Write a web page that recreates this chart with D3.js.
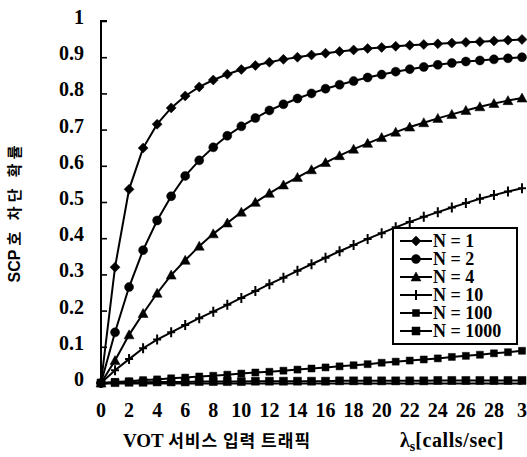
<!DOCTYPE html>
<html>
<head>
<meta charset="utf-8">
<script src="https://cdn.jsdelivr.net/npm/d3@7"></script>
<style>
  body { margin: 0; background: #fff; }
  text { fill: #000; }
</style>
</head>
<body>
<div id="chart"></div>
<script>
const W = 527, H = 457;
const margin = { top: 21, right: 5, bottom: 74, left: 101 };

// traffic values (calls/sec)
const lambdaValues = [0, 1, 2, 3, 4, 5, 6, 7, 8, 9, 10, 11, 12, 13, 14, 15, 16, 17, 18, 19, 20, 21, 22, 23, 24, 25, 26, 27, 28, 29, 30];
const xTickValues = [0, 2, 4, 6, 8, 10, 12, 14, 16, 18, 20, 22, 24, 26, 28, 30];
const xTickLabels = ["0", "2", "4", "6", "8", "10", "12", "14", "16", "18", "20", "22", "24", "26", "28", "3"];
const yTickValues = [0, 0.1, 0.2, 0.3, 0.4, 0.5, 0.6, 0.7, 0.8, 0.9, 1];
const yTickLabels = ["0", "0.1", "0.2", "0.3", "0.4", "0.5", "0.6", "0.7", "0.8", "0.9", "1"];

const seriesNames = ["N = 1", "N = 2", "N = 4", "N = 10", "N = 100", "N = 1000"];
const n1 = [0, 0.32, 0.535, 0.649, 0.715, 0.76, 0.793, 0.818, 0.837, 0.853, 0.866, 0.877, 0.886, 0.894, 0.900, 0.906, 0.911, 0.916, 0.920, 0.924, 0.927, 0.930, 0.933, 0.935, 0.937, 0.939, 0.941, 0.943, 0.945, 0.947, 0.949];
const n2 = [0, 0.14, 0.265, 0.367, 0.449, 0.516, 0.572, 0.615, 0.651, 0.683, 0.709, 0.732, 0.753, 0.770, 0.786, 0.800, 0.813, 0.824, 0.834, 0.844, 0.852, 0.860, 0.867, 0.873, 0.879, 0.884, 0.888, 0.891, 0.894, 0.897, 0.900];
const n4 = [0, 0.062, 0.133, 0.192, 0.248, 0.298, 0.339, 0.378, 0.412, 0.442, 0.472, 0.499, 0.524, 0.547, 0.568, 0.589, 0.609, 0.628, 0.646, 0.662, 0.678, 0.693, 0.707, 0.719, 0.731, 0.742, 0.753, 0.763, 0.772, 0.780, 0.787];
const n10 = [0, 0.035, 0.066, 0.096, 0.12, 0.14, 0.16, 0.179, 0.197, 0.216, 0.235, 0.254, 0.273, 0.291, 0.31, 0.328, 0.346, 0.364, 0.381, 0.398, 0.414, 0.43, 0.445, 0.459, 0.472, 0.485, 0.497, 0.509, 0.519, 0.529, 0.538];
const n100 = [0, 0.003, 0.005, 0.008, 0.010, 0.013, 0.015, 0.018, 0.020, 0.023, 0.026, 0.029, 0.031, 0.034, 0.037, 0.040, 0.043, 0.046, 0.049, 0.052, 0.056, 0.059, 0.062, 0.065, 0.068, 0.072, 0.075, 0.078, 0.082, 0.085, 0.089];
const n1000 = [0, 0.001, 0.002, 0.002, 0.003, 0.003, 0.003, 0.004, 0.004, 0.004, 0.004, 0.005, 0.005, 0.005, 0.005, 0.005, 0.005, 0.006, 0.006, 0.006, 0.006, 0.006, 0.006, 0.006, 0.007, 0.007, 0.007, 0.007, 0.007, 0.007, 0.007];

const seriesValues = [n1, n2, n4, n10, n100, n1000];
const markerShapes = ["diamond", "circle", "triangle", "plus", "smallsquare", "square"];

const markerPath = {
  diamond: "M0,-5L5,0L0,5L-5,0Z",
  circle: "M4.5,0A4.5,4.5 0 1,1 -4.5,0A4.5,4.5 0 1,1 4.5,0Z",
  triangle: "M0,-5L5,4L-5,4Z",
  plus: "M-4,0H4M0,-5V5",
  smallsquare: "M-3.5,-3.5H3.5V3.5H-3.5Z",
  square: "M-4,-4H4V4H-4Z"
};

const serif = "'Liberation Serif', 'DejaVu Serif', serif";
const kor = "'Noto Sans CJK KR', sans-serif";

const svg = d3.select("#chart").append("svg")
  .attr("width", W)
  .attr("height", H)
  .style("background", "#fff");

const x = d3.scaleLinear().domain([0, 30]).range([margin.left, W - margin.right]);
const y = d3.scaleLinear().domain([0, 1]).range([H - margin.bottom, margin.top]);

// axes
const yAxis = svg.append("g")
  .attr("transform", `translate(${margin.left},0)`)
  .call(d3.axisRight(y).tickValues(yTickValues).tickSize(6).tickFormat(""));
yAxis.select(".domain").attr("d", `M6,${y(1)}H0V${y(0)}`).attr("stroke-width", 2);
yAxis.selectAll(".tick line").attr("stroke-width", 1.6);

svg.append("g")
  .attr("transform", `translate(0,${y(0)})`)
  .call(d3.axisBottom(x).tickValues(xTickValues).tickSize(0).tickFormat(""))
  .select(".domain").attr("stroke-width", 2);

svg.append("g").selectAll("text")
  .data(yTickValues)
  .enter().append("text")
  .attr("x", 84)
  .attr("y", (d) => y(d) - 4)
  .attr("dy", "0.35em")
  .attr("text-anchor", "end")
  .style("font-family", serif)
  .style("font-weight", "bold")
  .style("font-size", "20px")
  .text((d, i) => yTickLabels[i]);

svg.append("g").selectAll("text")
  .data(xTickValues)
  .enter().append("text")
  .attr("x", (d) => x(d))
  .attr("y", 417)
  .attr("text-anchor", "middle")
  .style("font-family", serif)
  .style("font-weight", "bold")
  .style("font-size", "20px")
  .text((d, i) => xTickLabels[i]);

// axis titles
const xt = svg.append("text")
  .attr("x", 123)
  .attr("y", 447)
  .style("font-weight", "bold")
  .style("font-size", "19px");
xt.append("tspan").style("font-family", serif).text("VOT ");
xt.append("tspan").style("font-family", kor).style("font-size", "17px").style("letter-spacing", "1px").text("서비스 입력 트래픽");

const xu = svg.append("text")
  .attr("x", 504)
  .attr("y", 447)
  .attr("text-anchor", "end")
  .style("font-family", serif)
  .style("font-weight", "bold")
  .style("font-size", "20px");
xu.append("tspan").text("λ");
xu.append("tspan").style("font-size", "14px").attr("dy", 4).text("s");
xu.append("tspan").attr("dy", -4).style("letter-spacing", "0.6px").text("[calls/sec]");

const yt = svg.append("text")
  .attr("transform", "translate(20,212) rotate(-90)")
  .attr("text-anchor", "middle")
  .style("font-weight", "bold")
  .style("font-size", "15px");
yt.append("tspan").style("font-family", "'Liberation Sans', Arial, sans-serif").style("font-size", "16px").text("SCP ");
yt.append("tspan").style("font-family", kor).style("letter-spacing", "4px").text("호 차단 확률");

// series
const line = d3.line()
  .x((d) => x(d[0]))
  .y((d) => y(d[1]));

seriesValues.forEach((vals, k) => {
  const pts = lambdaValues.map((l, i) => [l, vals[i]]);
  const g = svg.append("g");
  g.append("path")
    .datum(pts)
    .attr("d", line)
    .attr("fill", "none")
    .attr("stroke", "#000")
    .attr("stroke-width", 2);
  g.selectAll("path.m")
    .data(pts)
    .enter().append("path")
    .attr("class", "m")
    .attr("transform", (d) => `translate(${x(d[0])},${y(d[1])})`)
    .attr("d", markerPath[markerShapes[k]])
    .attr("fill", "#000")
    .attr("stroke", "#000")
    .attr("stroke-width", markerShapes[k] === "plus" ? 2 : 0.5);
});

// legend
const legend = svg.append("g");
legend.append("rect")
  .attr("x", 393)
  .attr("y", 228)
  .attr("width", 124)
  .attr("height", 116)
  .attr("fill", "#fff")
  .attr("stroke", "#000")
  .attr("stroke-width", 2);

seriesNames.forEach((name, k) => {
  const ly = 241 + k * 18;
  legend.append("line")
    .attr("x1", 400).attr("x2", 432)
    .attr("y1", ly).attr("y2", ly)
    .attr("stroke", "#000")
    .attr("stroke-width", 2);
  legend.append("path")
    .attr("transform", `translate(416,${ly})`)
    .attr("d", markerPath[markerShapes[k]])
    .attr("fill", "#000")
    .attr("stroke", "#000")
    .attr("stroke-width", markerShapes[k] === "plus" ? 2 : 0.5);
  legend.append("text")
    .attr("x", 433)
    .attr("y", ly)
    .attr("dy", "0.35em")
    .style("font-family", serif)
    .style("font-weight", "bold")
    .style("font-size", "18px")
    .text(name);
});
</script>
</body>
</html>
